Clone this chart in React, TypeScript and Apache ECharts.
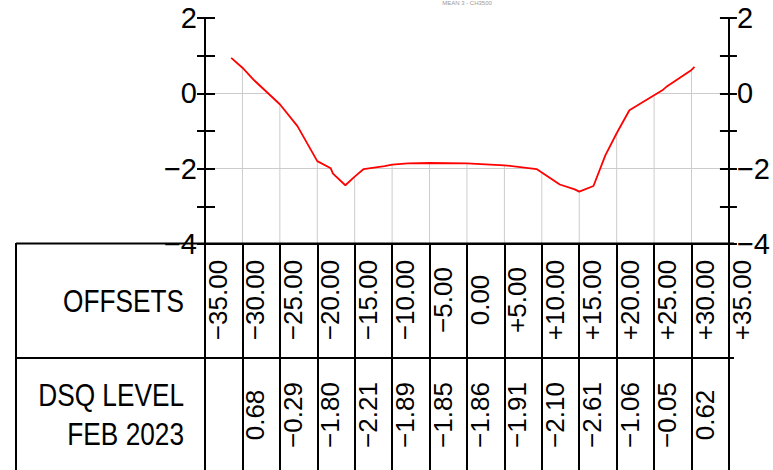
import React, { useEffect, useRef } from "react";
import * as echarts from "echarts";

// ---- data ----
const OFFSETS = [-35, -30, -25, -20, -15, -10, -5, 0, 5, 10, 15, 20, 25, 30, 35];
const OFFSET_LABELS = ["−35.00", "−30.00", "−25.00", "−20.00", "−15.00", "−10.00", "−5.00", "0.00", "+5.00", "+10.00", "+15.00", "+20.00", "+25.00", "+30.00", "+35.00"];
const LEVEL_OFFSETS = [-30, -25, -20, -15, -10, -5, 0, 5, 10, 15, 20, 25, 30];
const LEVELS = [0.68, -0.29, -1.8, -2.21, -1.89, -1.85, -1.86, -1.91, -2.1, -2.61, -1.06, -0.05, 0.62];
const LEVEL_LABELS = ["0.68", "−0.29", "−1.80", "−2.21", "−1.89", "−1.85", "−1.86", "−1.91", "−2.10", "−2.61", "−1.06", "−0.05", "0.62"];
const PROFILE_X = [-31.5, -30, -28.4, -25, -22.65, -20, -18.2, -17.9, -16.25, -15, -13.8, -11, -10, -7.9, -5, 0, 5, 9.3, 10, 12.4, 14.4, 15, 16.9, 18.5, 20, 21.7, 25, 26.1, 26.75, 30, 30.4];
const PROFILE_Y = [0.94, 0.68, 0.34, -0.29, -0.87, -1.8, -1.99, -2.13, -2.44, -2.21, -2.01, -1.93, -1.89, -1.86, -1.85, -1.86, -1.91, -2.01, -2.1, -2.42, -2.55, -2.61, -2.46, -1.64, -1.06, -0.45, -0.05, 0.08, 0.19, 0.62, 0.7];
const Y_TICK_VALUES = [2, 0, -2, -4];
const Y_TICK_TEXT = ["2", "0", "−2", "−4"];
const ROW_TITLES = ["OFFSETS", "DSQ LEVEL", "FEB 2023"];
const TITLE = "MEAN 3 - CH3500";

const FONT = "'Liberation Sans', Arial, Helvetica, sans-serif";

export default function App() {
  const ref = useRef<HTMLDivElement>(null);
  useEffect(() => {
    if (!ref.current) return;
    const chart = echarts.init(ref.current, undefined, { renderer: "svg" });

    const yLabel = (v: number) => {
      const i = Y_TICK_VALUES.indexOf(v);
      return i >= 0 ? Y_TICK_TEXT[i] : "";
    };
    const offLabel = (v: number) => {
      const i = OFFSETS.indexOf(v);
      return i >= 0 ? OFFSET_LABELS[i] : "";
    };
    const lvlLabel = (v: number) => {
      const i = LEVEL_OFFSETS.indexOf(v);
      return i >= 0 ? LEVEL_LABELS[i] : "";
    };
    const transparent = "rgba(0,0,0,0)";
    const grayGrid = "#cccccc";

    const yBase = {
      type: "value",
      min: -4,
      max: 2,
      interval: 1,
    };
    const xBase = {
      type: "value",
      min: -35,
      max: 35,
      interval: 5,
      position: "bottom",
    };

    const headerText = (i: number, y: number) => ({
      type: "text",
      x: 184,
      y,
      scaleX: 0.82,
      style: { text: ROW_TITLES[i], font: `32px ${FONT}`, fill: "#000", align: "right", verticalAlign: "middle" },
      z: 10,
    });

    chart.setOption({
      animation: false,
      grid: { left: 205, right: 39, top: 18, bottom: 226 },
      xAxis: [
        {
          ...xBase,
          axisLine: { show: true, onZero: false, lineStyle: { color: "#000", width: 2 } },
          axisTick: { show: true, length: 226, lineStyle: { color: "#000", width: 2 } },
          splitLine: { show: false },
          axisLabel: {
            show: true,
            rotate: 90,
            align: "center",
            verticalAlign: "top",
            margin: 56,
            fontFamily: FONT,
            fontSize: 26,
            color: "#000",
            formatter: offLabel,
            showMinLabel: true,
            showMaxLabel: true,
            hideOverlap: false,
          },
        },
        {
          ...xBase,
          axisLine: { show: false, onZero: false },
          axisTick: { show: false },
          splitLine: { show: false },
          axisLabel: {
            show: true,
            rotate: 90,
            align: "center",
            verticalAlign: "top",
            margin: 171,
            fontFamily: FONT,
            fontSize: 26,
            color: "#000",
            formatter: lvlLabel,
            hideOverlap: false,
          },
        },
      ],
      yAxis: [
        {
          ...yBase,
          position: "left",
          axisLine: { show: true, onZero: false, lineStyle: { color: "#000", width: 2 } },
          axisTick: { show: true, length: 8, lineStyle: { color: "#000", width: 2 } },
          axisLabel: { show: true, margin: 8, fontFamily: FONT, fontSize: 29, color: "#000", formatter: yLabel },
          splitLine: {
            show: true,
            lineStyle: { color: [transparent, transparent, grayGrid, transparent, grayGrid, transparent, transparent], width: 1 },
          },
        },
        {
          ...yBase,
          position: "left",
          axisLine: { show: false, onZero: false },
          axisTick: { show: true, inside: true, length: 10, lineStyle: { color: "#000", width: 2 } },
          axisLabel: { show: false },
          splitLine: { show: false },
        },
        {
          ...yBase,
          position: "right",
          axisLine: { show: true, onZero: false, lineStyle: { color: "#000", width: 2 } },
          axisTick: { show: true, length: 8, lineStyle: { color: "#000", width: 2 } },
          axisLabel: { show: true, margin: 8, fontFamily: FONT, fontSize: 29, color: "#000", formatter: yLabel },
          splitLine: { show: false },
        },
        {
          ...yBase,
          position: "right",
          axisLine: { show: false, onZero: false },
          axisTick: { show: true, inside: true, length: 9, lineStyle: { color: "#000", width: 2 } },
          axisLabel: { show: false },
          splitLine: { show: false },
        },
      ],
      series: [
        {
          type: "custom",
          xAxisIndex: 0,
          yAxisIndex: 0,
          z: 2,
          silent: true,
          data: LEVEL_OFFSETS.map((x, i) => [x, LEVELS[i]]),
          renderItem: (params: any, api: any) => {
            const x = api.value(0);
            const y = api.value(1);
            const p1 = api.coord([x, y]);
            const p2 = api.coord([x, -4]);
            return {
              type: "line",
              shape: { x1: p1[0], y1: p1[1], x2: p2[0], y2: p2[1] },
              style: { stroke: grayGrid, lineWidth: 1, fill: null },
            };
          },
        },
        {
          type: "line",
          xAxisIndex: 0,
          yAxisIndex: 0,
          z: 3,
          symbol: "none",
          silent: true,
          data: PROFILE_X.map((x, i) => [x, PROFILE_Y[i]]),
          lineStyle: { color: "#ff0000", width: 1.8 },
          areaStyle: { color: "#ffffff", opacity: 1, origin: "end" },
        },
      ],
      graphic: [
        // table borders
        { type: "line", shape: { x1: 16, y1: 243.5, x2: 734, y2: 243.5 }, style: { stroke: "#000", lineWidth: 2 }, z: 10 },
        { type: "line", shape: { x1: 16, y1: 358, x2: 734, y2: 358 }, style: { stroke: "#000", lineWidth: 2 }, z: 10 },
        { type: "line", shape: { x1: 16, y1: 243, x2: 16, y2: 470 }, style: { stroke: "#000", lineWidth: 2 }, z: 10 },
        headerText(0, 301),
        headerText(1, 395),
        headerText(2, 434),
        {
          type: "text",
          x: 467,
          y: 0,
          style: { text: TITLE, font: `6px ${FONT}`, fill: "#999", align: "center", verticalAlign: "top" },
          z: 10,
        },
      ],
    });
    return () => chart.dispose();
  }, []);
  return <div ref={ref} style={{ position: "absolute", left: 0, top: 0, width: 773, height: 470 }} />;
}
